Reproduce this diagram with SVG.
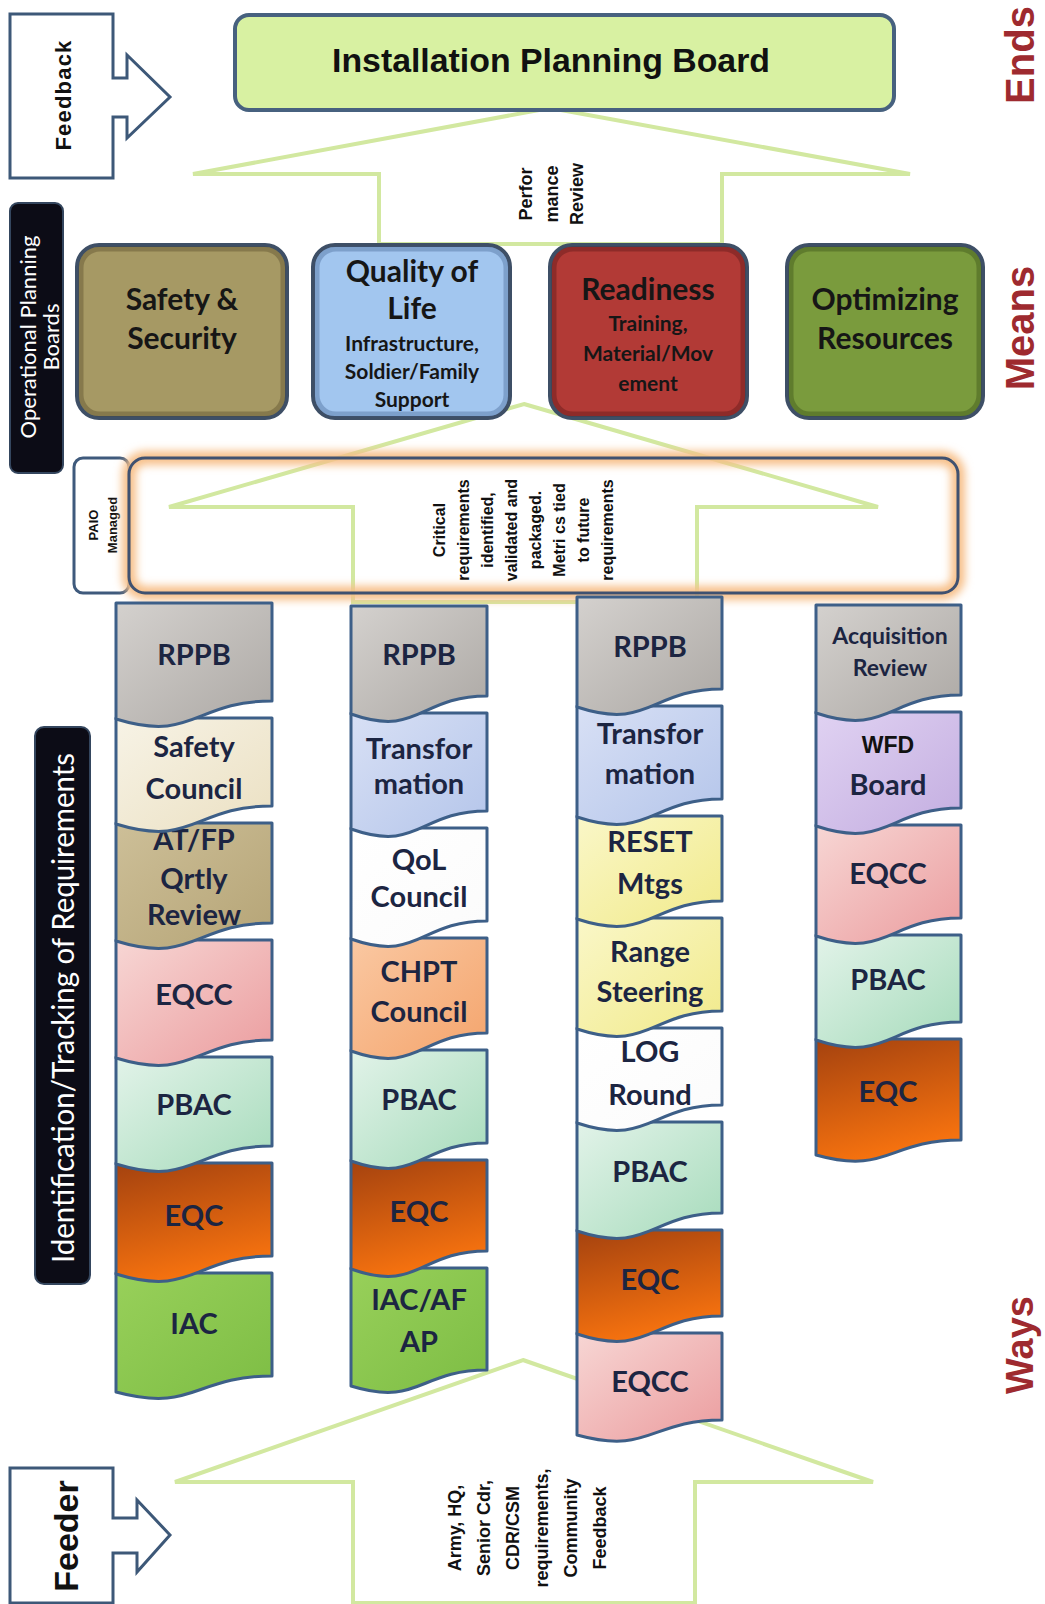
<svg xmlns="http://www.w3.org/2000/svg" width="1045" height="1604" viewBox="0 0 1045 1604">
<defs>
<style>
.doc{stroke:#3d5f88;stroke-width:3;stroke-linejoin:round}
.ct{font-family:Lato,"Open Sans","Liberation Sans",sans-serif;font-weight:700;font-size:29px;fill:#1c2542;text-anchor:middle;dominant-baseline:central}
.mt{font-family:Lato,"Open Sans","Liberation Sans",sans-serif;font-weight:700;font-size:30px;fill:#161616;text-anchor:middle;dominant-baseline:central}
.ms{font-family:Lato,"Open Sans","Liberation Sans",sans-serif;font-weight:700;font-size:21px;fill:#161616;text-anchor:middle;dominant-baseline:central}
.mbox{stroke:#3e4f66;stroke-width:4}
.mshade{fill:none;stroke-width:5;stroke-opacity:0.35}
.garrow{fill:none;stroke:#d2e8a0;stroke-width:4;stroke-linejoin:miter}
.rot{font-family:"Liberation Sans",Arial,sans-serif;font-weight:700;fill:#111;text-anchor:middle;dominant-baseline:central}
.side{font-family:"Liberation Sans",Arial,sans-serif;font-weight:700;fill:#9e2a2f;text-anchor:middle;dominant-baseline:central}
.bar{fill:#0c0c16;stroke:#34465e;stroke-width:2}
.bart{font-family:Lato,"Open Sans",sans-serif;fill:#ffffff;text-anchor:middle;dominant-baseline:central}
.outline{fill:#ffffff;stroke:#3d5878;stroke-width:3;stroke-linejoin:miter}
</style>
<linearGradient id="gGray" x1="0" y1="0" x2="1" y2="1"><stop offset="0" stop-color="#d4d1ce"/><stop offset="1" stop-color="#aca8a4"/></linearGradient>
<linearGradient id="gCream" x1="0" y1="0" x2="1" y2="1"><stop offset="0" stop-color="#f7f3e6"/><stop offset="1" stop-color="#ebe0c2"/></linearGradient>
<linearGradient id="gTan" x1="0" y1="0" x2="1" y2="1"><stop offset="0" stop-color="#cdbf98"/><stop offset="1" stop-color="#b5a476"/></linearGradient>
<linearGradient id="gPink" x1="0" y1="0" x2="1" y2="1"><stop offset="0" stop-color="#f7d6d4"/><stop offset="1" stop-color="#eb9c9e"/></linearGradient>
<linearGradient id="gMint" x1="0" y1="0" x2="1" y2="1"><stop offset="0" stop-color="#e2f3e9"/><stop offset="1" stop-color="#a6dbbb"/></linearGradient>
<linearGradient id="gOrange" x1="0" y1="0" x2="0.3" y2="1"><stop offset="0" stop-color="#a4420f"/><stop offset="1" stop-color="#f6720f"/></linearGradient>
<linearGradient id="gGreen" x1="0" y1="0" x2="1" y2="1"><stop offset="0" stop-color="#98d05a"/><stop offset="1" stop-color="#7dbd44"/></linearGradient>
<linearGradient id="gBlue" x1="0" y1="0" x2="1" y2="1"><stop offset="0" stop-color="#d8e0f5"/><stop offset="1" stop-color="#b4c5ea"/></linearGradient>
<linearGradient id="gPeach" x1="0" y1="0" x2="1" y2="1"><stop offset="0" stop-color="#fac8a2"/><stop offset="1" stop-color="#f4a46c"/></linearGradient>
<linearGradient id="gYellow" x1="0" y1="0" x2="1" y2="1"><stop offset="0" stop-color="#faf7c8"/><stop offset="1" stop-color="#f1ea8a"/></linearGradient>
<linearGradient id="gLav" x1="0" y1="0" x2="1" y2="1"><stop offset="0" stop-color="#e0d2f2"/><stop offset="1" stop-color="#c3ade0"/></linearGradient>
<linearGradient id="gWhite" x1="0" y1="0" x2="1" y2="1"><stop offset="0" stop-color="#ffffff"/><stop offset="1" stop-color="#fbfbfb"/></linearGradient>
<filter id="glow" x="-5%" y="-25%" width="110%" height="150%"><feGaussianBlur stdDeviation="4"/></filter>
</defs>
<rect width="1045" height="1604" fill="#ffffff"/>

<g id="connectors">
<polygon class="garrow" points="550,108 910,174 722,174 722,244 379,244 379,174 193,174"/>
<polygon class="garrow" points="524,404 878,507 697,507 697,602 353,602 353,507 169,507"/>
<polygon class="garrow" points="523,1360 873,1482 695,1482 695,1603 353,1603 353,1482 175,1482"/>
</g>

<g id="perf-review">
<text class="rot" font-size="18" transform="translate(526,194) rotate(-90)">Perfor</text>
<text class="rot" font-size="18" transform="translate(552,194) rotate(-90)">mance</text>
<text class="rot" font-size="18" transform="translate(577,194) rotate(-90)">Review</text>
</g>

<g id="feedback">
<path class="outline" d="M10,14 H113 V78 H127 V55 L170,97 L127,138 V117 H113 V178 H10 Z"/>
<text class="rot" font-size="22" letter-spacing="1.2" transform="translate(63,95) rotate(-90)">Feedback</text>
</g>

<g id="ipb">
<rect x="235" y="15" width="659" height="95" rx="14" fill="#d8f1a2" stroke="#47617f" stroke-width="4"/>
<text x="551" y="60" font-family="'Liberation Sans',Arial,sans-serif" font-weight="700" font-size="33" fill="#111" text-anchor="middle" dominant-baseline="central" textLength="438" lengthAdjust="spacingAndGlyphs">Installation Planning Board</text>
</g>

<g id="label-ends"><text class="side" font-size="40" transform="translate(1020,55) rotate(-90)">Ends</text></g>
<g id="label-means"><text class="side" font-size="40" transform="translate(1020,328) rotate(-90)">Means</text></g>
<g id="label-ways"><text class="side" font-size="38" transform="translate(1020,1345) rotate(-90)">Ways</text></g>

<g id="opb-bar">
<rect class="bar" x="10" y="203" width="53" height="270" rx="8"/>
<text class="bart" font-size="22" transform="translate(27,337) rotate(-90)">Operational Planning</text>
<text class="bart" font-size="22" transform="translate(50,337) rotate(-90)">Boards</text>
</g>

<g id="means-safety">
<rect class="mbox" x="77" y="245" width="210" height="173" rx="22" fill="#a69964"/>
<rect class="mshade" x="81" y="249" width="202" height="165" rx="19" stroke="#4a4020"/>
<text class="mt" x="182" y="298">Safety &amp;</text>
<text class="mt" x="182" y="337">Security</text>
</g>
<g id="means-qol">
<rect class="mbox" x="313" y="245" width="197" height="173" rx="22" fill="#a2c6ef"/>
<rect class="mshade" x="317" y="249" width="189" height="165" rx="19" stroke="#3a5a8a"/>
<text class="mt" x="412" y="270">Quality of</text>
<text class="mt" x="412" y="307">Life</text>
<text class="ms" x="412" y="342">Infrastructure,</text>
<text class="ms" x="412" y="370">Soldier/Family</text>
<text class="ms" x="412" y="398">Support</text>
</g>
<g id="means-readiness">
<rect class="mbox" x="550" y="245" width="197" height="173" rx="22" fill="#b23a36"/>
<rect class="mshade" x="554" y="249" width="189" height="165" rx="19" stroke="#4a1010"/>
<text class="mt" x="648" y="288">Readiness</text>
<text class="ms" x="648" y="322">Training,</text>
<text class="ms" x="648" y="352">Material/Mov</text>
<text class="ms" x="648" y="382">ement</text>
</g>
<g id="means-optimizing">
<rect class="mbox" x="787" y="245" width="196" height="173" rx="22" fill="#7a9b3d"/>
<rect class="mshade" x="791" y="249" width="188" height="165" rx="19" stroke="#2e4210"/>
<text class="mt" x="885" y="298">Optimizing</text>
<text class="mt" x="885" y="337">Resources</text>
</g>

<g id="paio">
<rect x="74" y="458" width="55" height="135" rx="9" fill="#ffffff" stroke="#3f5a7c" stroke-width="3"/>
<text class="rot" font-size="13" transform="translate(93,525) rotate(-90)">PAIO</text>
<text class="rot" font-size="13" transform="translate(112,525) rotate(-90)">Managed</text>
</g>

<g id="critical-frame">
<rect x="129" y="458" width="829" height="135" rx="16" fill="none" stroke="#f7bf88" stroke-width="14" filter="url(#glow)"/>
<rect x="129" y="458" width="829" height="135" rx="16" fill="none" stroke="#3f5170" stroke-width="3"/>
<text class="rot" font-size="16" transform="translate(439,530) rotate(-90)">Critical</text>
<text class="rot" font-size="16" transform="translate(463,530) rotate(-90)">requirements</text>
<text class="rot" font-size="16" transform="translate(487,530) rotate(-90)">identified,</text>
<text class="rot" font-size="16" transform="translate(511,530) rotate(-90)">validated and</text>
<text class="rot" font-size="16" transform="translate(535,530) rotate(-90)">packaged.</text>
<text class="rot" font-size="16" transform="translate(559,530) rotate(-90)">Metri cs tied</text>
<text class="rot" font-size="16" transform="translate(583,530) rotate(-90)">to future</text>
<text class="rot" font-size="16" transform="translate(607,530) rotate(-90)">requirements</text>
</g>

<g id="ident-bar">
<rect class="bar" x="35" y="727" width="55" height="557" rx="9"/>
<text class="bart" font-size="30" textLength="510" lengthAdjust="spacingAndGlyphs" transform="translate(62,1008) rotate(-90)">Identification/Tracking of Requirements</text>
</g>

<!-- Column 1 -->
<g id="col1">
<g id="c1-iac"><path class="doc" fill="url(#gGreen)" d="M116,1273 H272 V1376 C194,1376 194,1413 116,1392 Z"/><text class="ct" x="194" y="1322">IAC</text></g>
<g id="c1-eqc"><path class="doc" fill="url(#gOrange)" d="M116,1163 H272 V1256 C194,1256 194,1298 116,1274 Z"/><text class="ct" x="194" y="1214">EQC</text></g>
<g id="c1-pbac"><path class="doc" fill="url(#gMint)" d="M116,1057 H272 V1146 C194,1146 194,1188 116,1164 Z"/><text class="ct" x="194" y="1103">PBAC</text></g>
<g id="c1-eqcc"><path class="doc" fill="url(#gPink)" d="M116,940 H272 V1040 C194,1040 194,1082 116,1058 Z"/><text class="ct" x="194" y="993">EQCC</text></g>
<g id="c1-atfp"><path class="doc" fill="url(#gTan)" d="M116,823 H272 V923 C194,923 194,965 116,941 Z"/><text class="ct" x="194" y="838">AT/FP</text><text class="ct" x="194" y="877">Qrtly</text><text class="ct" x="194" y="913">Review</text></g>
<g id="c1-safety"><path class="doc" fill="url(#gCream)" d="M116,718 H272 V806 C194,806 194,848 116,824 Z"/><text class="ct" x="194" y="745">Safety</text><text class="ct" x="194" y="787">Council</text></g>
<g id="c1-rppb"><path class="doc" fill="url(#gGray)" d="M116,603 H272 V701 C194,701 194,743 116,719 Z"/><text class="ct" x="194" y="653">RPPB</text></g>
</g>

<!-- Column 2 -->
<g id="col2">
<g id="c2-iacafap"><path class="doc" fill="url(#gGreen)" d="M351,1268 H487 V1370 C419,1370 419,1407 351,1386 Z"/><text class="ct" x="419" y="1298">IAC/AF</text><text class="ct" x="419" y="1340">AP</text></g>
<g id="c2-eqc"><path class="doc" fill="url(#gOrange)" d="M351,1160 H487 V1251 C419,1251 419,1293 351,1269 Z"/><text class="ct" x="419" y="1210">EQC</text></g>
<g id="c2-pbac"><path class="doc" fill="url(#gMint)" d="M351,1050 H487 V1143 C419,1143 419,1185 351,1161 Z"/><text class="ct" x="419" y="1098">PBAC</text></g>
<g id="c2-chpt"><path class="doc" fill="url(#gPeach)" d="M351,938 H487 V1033 C419,1033 419,1075 351,1051 Z"/><text class="ct" x="419" y="970">CHPT</text><text class="ct" x="419" y="1010">Council</text></g>
<g id="c2-qol"><path class="doc" fill="url(#gWhite)" d="M351,828 H487 V921 C419,921 419,963 351,939 Z"/><text class="ct" x="419" y="858">QoL</text><text class="ct" x="419" y="895">Council</text></g>
<g id="c2-transformation"><path class="doc" fill="url(#gBlue)" d="M351,713 H487 V811 C419,811 419,853 351,829 Z"/><text class="ct" x="419" y="747">Transfor</text><text class="ct" x="419" y="782">mation</text></g>
<g id="c2-rppb"><path class="doc" fill="url(#gGray)" d="M351,606 H487 V696 C419,696 419,738 351,714 Z"/><text class="ct" x="419" y="653">RPPB</text></g>
</g>

<!-- Column 3 -->
<g id="col3">
<g id="c3-eqcc"><path class="doc" fill="url(#gPink)" d="M577,1333 H722 V1420 C650,1420 650,1455 577,1435 Z"/><text class="ct" x="650" y="1380">EQCC</text></g>
<g id="c3-eqc"><path class="doc" fill="url(#gOrange)" d="M577,1230 H722 V1316 C650,1316 650,1358 577,1334 Z"/><text class="ct" x="650" y="1278">EQC</text></g>
<g id="c3-pbac"><path class="doc" fill="url(#gMint)" d="M577,1122 H722 V1213 C650,1213 650,1255 577,1231 Z"/><text class="ct" x="650" y="1170">PBAC</text></g>
<g id="c3-log"><path class="doc" fill="url(#gWhite)" d="M577,1028 H722 V1105 C650,1105 650,1147 577,1123 Z"/><text class="ct" x="650" y="1050">LOG</text><text class="ct" x="650" y="1093">Round</text></g>
<g id="c3-range"><path class="doc" fill="url(#gYellow)" d="M577,918 H722 V1011 C650,1011 650,1053 577,1029 Z"/><text class="ct" x="650" y="950">Range</text><text class="ct" x="650" y="990">Steering</text></g>
<g id="c3-reset"><path class="doc" fill="url(#gYellow)" d="M577,816 H722 V901 C650,901 650,943 577,919 Z"/><text class="ct" x="650" y="840">RESET</text><text class="ct" x="650" y="882">Mtgs</text></g>
<g id="c3-transformation"><path class="doc" fill="url(#gBlue)" d="M577,706 H722 V799 C650,799 650,841 577,817 Z"/><text class="ct" x="650" y="732">Transfor</text><text class="ct" x="650" y="772">mation</text></g>
<g id="c3-rppb"><path class="doc" fill="url(#gGray)" d="M577,597 H722 V689 C650,689 650,731 577,707 Z"/><text class="ct" x="650" y="645">RPPB</text></g>
</g>

<!-- Column 4 -->
<g id="col4">
<g id="c4-eqc"><path class="doc" fill="url(#gOrange)" d="M816,1039 H961 V1140 C888,1140 888,1175 816,1155 Z"/><text class="ct" x="888" y="1090">EQC</text></g>
<g id="c4-pbac"><path class="doc" fill="url(#gMint)" d="M816,935 H961 V1022 C888,1022 888,1064 816,1040 Z"/><text class="ct" x="888" y="978">PBAC</text></g>
<g id="c4-eqcc"><path class="doc" fill="url(#gPink)" d="M816,825 H961 V918 C888,918 888,960 816,936 Z"/><text class="ct" x="888" y="872">EQCC</text></g>
<g id="c4-wfd"><path class="doc" fill="url(#gLav)" d="M816,712 H961 V808 C888,808 888,850 816,826 Z"/><text x="888" y="745" font-family="'Liberation Sans',Arial,sans-serif" font-weight="700" font-size="23" fill="#111" text-anchor="middle" dominant-baseline="central">WFD</text><text class="ct" x="888" y="783">Board</text></g>
<g id="c4-acq"><path class="doc" fill="url(#gGray)" d="M816,605 H961 V695 C888,695 888,737 816,713 Z"/><text class="ct" style="font-size:23px" x="890" y="635">Acquisition</text><text class="ct" style="font-size:23px" x="890" y="667">Review</text></g>
</g>

<g id="feeder">
<path class="outline" d="M10,1603 V1468 H113 V1518 H137 V1500 L170,1535 L137,1572 V1553 H113 V1603 Z"/>
<text class="rot" font-size="34" transform="translate(66,1536) rotate(-90)">Feeder</text>
</g>

<g id="feeder-text">
<text class="rot" font-size="18" transform="translate(455,1528) rotate(-90)">Army, HQ,</text>
<text class="rot" font-size="18" transform="translate(484,1528) rotate(-90)">Senior Cdr,</text>
<text class="rot" font-size="18" transform="translate(513,1528) rotate(-90)">CDR/CSM</text>
<text class="rot" font-size="18" transform="translate(542,1528) rotate(-90)">requirements,</text>
<text class="rot" font-size="18" transform="translate(571,1528) rotate(-90)">Community</text>
<text class="rot" font-size="18" transform="translate(600,1528) rotate(-90)">Feedback</text>
</g>
</svg>
